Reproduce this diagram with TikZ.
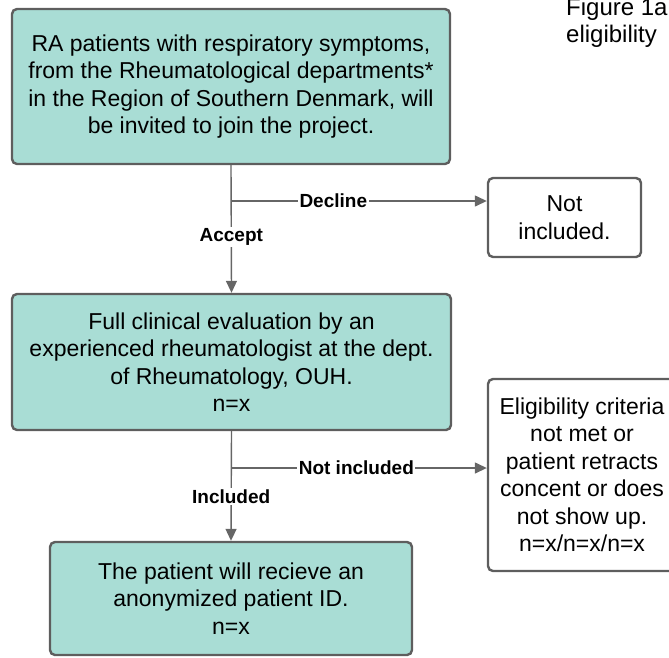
\documentclass[tikz,border=0pt]{standalone}
\usepackage{fontspec}
\setmainfont{Liberation Sans}
\usetikzlibrary{arrows.meta}

\definecolor{boxfill}{HTML}{A9DDD5}
\definecolor{boxline}{HTML}{5E5E5E}
\definecolor{arrline}{HTML}{666666}

\tikzset{
  stepbox/.style={draw=boxline, line width=2.4pt, rounded corners=5pt,
    fill=boxfill, align=center, inner sep=0pt,
    font=\fontsize{23}{27.5}\selectfont},
  outbox/.style={stepbox, fill=white},
  arr/.style={draw=arrline, line width=1.4pt, -{Triangle[length=12pt,width=11pt]}},
  lbl/.style={fill=white, inner sep=1.5pt, font=\fontsize{19}{21}\selectfont\bfseries}
}

\begin{document}
\begin{tikzpicture}[x=1pt,y=-1pt]
  \useasboundingbox (0,0) rectangle (669,657);

  \node[stepbox, minimum width=438pt, minimum height=155pt] (invite) at (231,86.5)
    {RA patients with respiratory symptoms,\\from the Rheumatological departments*\\in the Region of Southern Denmark, will\\be invited to join the project.};
  \node[outbox, minimum width=153pt, minimum height=79pt] (notinc) at (564.5,217.5)
    {Not\\included.};
  \node[stepbox, minimum width=439pt, minimum height=136pt] (clinic) at (231.5,362)
    {Full clinical evaluation by an\\experienced rheumatologist at the dept.\\of Rheumatology, OUH.\\n=x};
  \node[outbox, minimum width=188pt, minimum height=192pt] (crit) at (582,475)
    {Eligibility criteria\\not met or\\patient retracts\\concent or does\\not show up.\\n=x/n=x/n=x};
  \node[stepbox, minimum width=362pt, minimum height=113pt] (patid) at (231,598.5)
    {The patient will recieve an\\anonymized patient ID.\\n=x};

  \node[anchor=north west, inner sep=0pt, align=left,
    font=\fontsize{24}{27}\selectfont] (title) at (566,-2)
    {Figure 1a\\eligibility};

  \coordinate (j1) at (231,201);
  \coordinate (j2) at (231,468);

  \draw[arr] (invite.south) -- (clinic.north) node[lbl, pos=0.56] {Accept};
  \draw[arr] (j1) -- node[lbl, pos=0.4] {Decline} (notinc.west |- j1);
  \draw[arr] (clinic.south) -- (patid.north) node[lbl, pos=0.6] {Included};
  \draw[arr] (j2) -- node[lbl, pos=0.49] {Not included} (crit.west |- j2);

\end{tikzpicture}
\end{document}
